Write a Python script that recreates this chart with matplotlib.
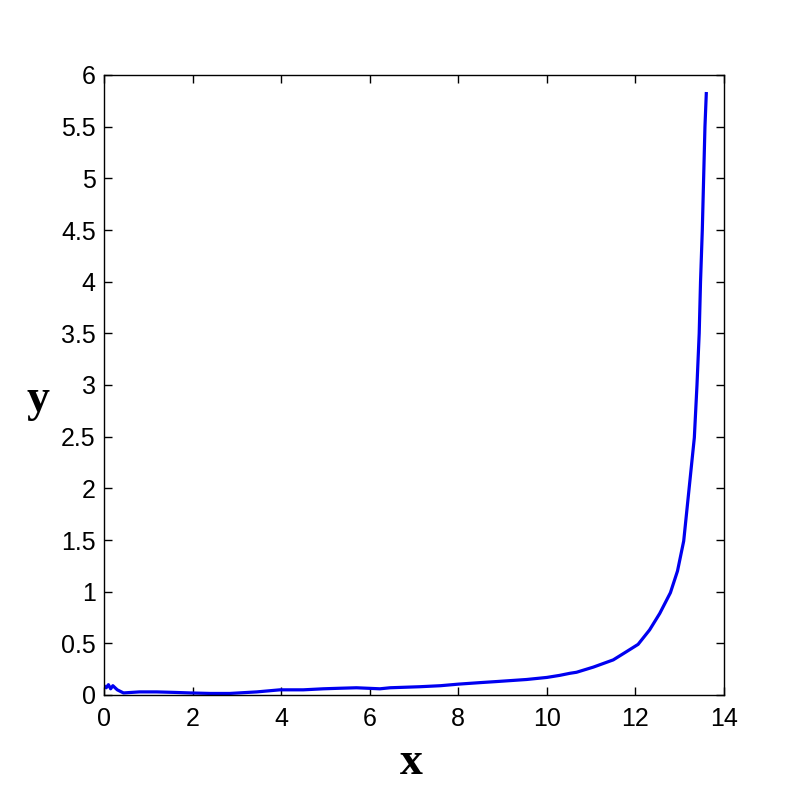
import matplotlib
matplotlib.use("Agg")
import matplotlib.pyplot as plt

# curve
x_vals = [0.0, 0.05, 0.1, 0.15, 0.2, 0.3, 0.44, 0.8, 1.19, 1.6, 1.94, 2.4, 2.84, 3.45, 3.97,
          4.5, 4.95, 5.3, 5.7, 6.23, 6.46, 7.13, 7.6, 8.0, 8.5, 8.86, 9.54, 10.0,
          10.29, 10.52, 10.67, 11.05, 11.5, 11.8, 12.06, 12.32, 12.55, 12.79,
          12.95, 13.09, 13.21, 13.33, 13.39, 13.44, 13.47, 13.51, 13.54, 13.57, 13.60]
y_vals = [0.09, 0.07, 0.1, 0.06, 0.09, 0.05, 0.02, 0.03, 0.03, 0.025, 0.02, 0.015, 0.015, 0.03, 0.05,
          0.05, 0.06, 0.065, 0.07, 0.06, 0.07, 0.08, 0.09, 0.105, 0.12, 0.13, 0.15, 0.17,
          0.19, 0.21, 0.22, 0.27, 0.34, 0.42, 0.49, 0.63, 0.79, 0.99,
          1.2, 1.49, 1.99, 2.49, 3.0, 3.5, 4.0, 4.5, 5.0, 5.5, 5.82]

xticks = [0, 2, 4, 6, 8, 10, 12, 14]
yticks = [0, 0.5, 1, 1.5, 2, 2.5, 3, 3.5, 4, 4.5, 5, 5.5, 6]
ytick_labels = ["0", "0.5", "1", "1.5", "2", "2.5", "3", "3.5", "4", "4.5", "5", "5.5", "6"]

fig = plt.figure(figsize=(8, 8), dpi=100)
ax = fig.add_axes([0.13, 0.13125, 0.775, 0.775])
ax.plot(x_vals, y_vals, color="#0000f0", lw=2.3)

ax.set_xlim(0, 14)
ax.set_ylim(0, 6)
ax.set_xticks(xticks)
ax.set_yticks(yticks)
ax.set_yticklabels(ytick_labels)
ax.tick_params(direction="in", length=6, width=1, top=True, right=True,
               labelsize=18, pad=6)
ax.tick_params(axis="x", pad=9)
for lab in ax.get_xticklabels() + ax.get_yticklabels():
    lab.set_fontfamily("Liberation Sans")
for s in ax.spines.values():
    s.set_linewidth(1.0)

fig.text(411 / 800, 1 - 763 / 800, "x", fontsize=33, fontweight="bold",
         family="Liberation Serif", ha="center", va="center")
fig.text(38 / 800, 1 - 400 / 800, "y", fontsize=33, fontweight="bold",
         family="Liberation Serif", ha="center", va="center")

fig.savefig("out.png", dpi=100)
